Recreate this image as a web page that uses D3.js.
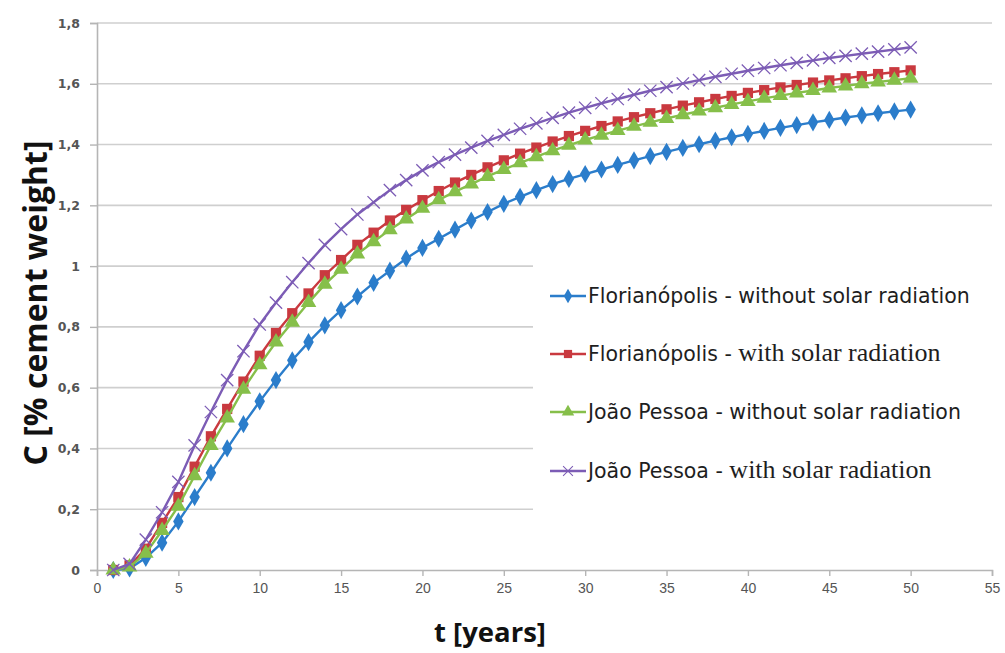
<!DOCTYPE html>
<html>
<head>
<meta charset="utf-8">
<script src="https://cdn.jsdelivr.net/npm/d3@7"></script>
<style>
  html, body { margin: 0; padding: 0; background: #fff; }
  svg { display: block; }
</style>
</head>
<body>
<svg id="chart" width="1005" height="653"></svg>
<script>
const years = [1,2,3,4,5,6,7,8,9,10,11,12,13,14,15,16,17,18,19,20,21,22,23,24,25,26,27,28,29,30,31,32,33,34,35,36,37,38,39,40,41,42,43,44,45,46,47,48,49,50];

const floriWithout = [0,0.005,0.04,0.09,0.16,0.24,0.32,0.40,0.48,0.555,0.625,0.69,0.75,0.805,0.855,0.90,0.945,0.985,1.025,1.06,1.09,1.12,1.15,1.178,1.205,1.228,1.25,1.27,1.287,1.303,1.318,1.333,1.348,1.362,1.376,1.389,1.401,1.413,1.424,1.435,1.445,1.455,1.464,1.473,1.481,1.489,1.496,1.503,1.509,1.515];

const floriWith = [0,0.015,0.07,0.155,0.24,0.34,0.44,0.53,0.62,0.705,0.78,0.845,0.91,0.97,1.02,1.07,1.11,1.15,1.185,1.217,1.247,1.275,1.30,1.325,1.348,1.37,1.39,1.41,1.428,1.445,1.461,1.476,1.49,1.503,1.516,1.528,1.539,1.55,1.56,1.57,1.579,1.588,1.596,1.604,1.611,1.618,1.625,1.632,1.638,1.644];

const jpWithout = [0,0.01,0.055,0.13,0.21,0.31,0.41,0.50,0.595,0.675,0.75,0.815,0.88,0.94,0.99,1.04,1.08,1.12,1.155,1.19,1.218,1.245,1.27,1.295,1.318,1.34,1.36,1.38,1.398,1.415,1.431,1.446,1.46,1.473,1.486,1.498,1.51,1.521,1.532,1.542,1.552,1.561,1.57,1.578,1.586,1.593,1.60,1.606,1.612,1.618];

const jpWith = [0,0.02,0.10,0.19,0.29,0.41,0.52,0.625,0.72,0.808,0.88,0.947,1.01,1.07,1.122,1.17,1.21,1.25,1.283,1.315,1.342,1.367,1.39,1.412,1.432,1.452,1.47,1.488,1.505,1.521,1.536,1.55,1.564,1.577,1.589,1.601,1.612,1.623,1.633,1.643,1.652,1.661,1.669,1.677,1.685,1.692,1.699,1.706,1.713,1.72];

const xTicks = [0,5,10,15,20,25,30,35,40,45,50,55];
const yTicks = [0,0.2,0.4,0.6,0.8,1,1.2,1.4,1.6,1.8];

const seriesNames = [
  ["Florianópolis - ", "without solar radiation"],
  ["Florianópolis - ", "with solar radiation"],
  ["João Pessoa - ", "without solar radiation"],
  ["João Pessoa - ", "with solar radiation"]
];
const seriesValues = [floriWithout, floriWith, jpWithout, jpWith];
const seriesColors = ["#2b7dcb", "#c9393f", "#86bf4a", "#7c5cb5"];
const seriesMarkers = ["diamond", "square", "triangle", "x"];
const seriesLabelSerif = [false, true, false, true];

const svg = d3.select("#chart");
const x = d3.scaleLinear().domain([0, 55]).range([97, 992]);
const y = d3.scaleLinear().domain([0, 1.8]).range([570, 23]);
const fmt = v => String(v).replace(".", ",");

// gridlines
svg.append("g").selectAll("line").data(yTicks.filter(v => v > 0)).join("line")
  .attr("x1", x(0)).attr("x2", x(55))
  .attr("y1", d => y(d)).attr("y2", d => y(d))
  .attr("stroke", "#cfcfcf").attr("stroke-width", 1.6);

// axes
const xAxis = d3.axisBottom(x).tickValues(xTicks).tickSize(6).tickFormat(d => d);
const gx = svg.append("g").attr("transform", `translate(0,${y(0)})`).call(xAxis);
gx.select(".domain").attr("stroke", "#b5b5b5").attr("stroke-width", 1.6);
gx.selectAll(".tick line").attr("stroke", "#b5b5b5").attr("stroke-width", 1.4);
gx.selectAll(".tick text").attr("dy", "0.71em").attr("y", 13)
  .attr("font-family", "Liberation Sans Narrow, Liberation Sans, sans-serif")
  .attr("font-size", 14).attr("fill", "#555");

const yAxis = d3.axisLeft(y).tickValues(yTicks).tickSize(7).tickFormat(fmt);
const gy = svg.append("g").attr("transform", `translate(${x(0)},0)`).call(yAxis);
gy.select(".domain").attr("stroke", "#b5b5b5").attr("stroke-width", 1.6);
gy.selectAll(".tick line").attr("stroke", "#b5b5b5").attr("stroke-width", 1.4);
gy.selectAll(".tick text").attr("x", -17)
  .attr("font-family", "DejaVu Sans, sans-serif").attr("font-weight", "bold")
  .attr("font-size", 12.5).attr("fill", "#555");

// legend background (covers grid)
svg.append("rect").attr("x", 533).attr("y", 238).attr("width", 472).attr("height", 284).attr("fill", "#fff");

// series
const line = d3.line().x((d, i) => x(years[i])).y(d => y(d));
const symbolOf = {
  diamond: d3.symbol().type(d3.symbolDiamond).size(95),
  square: d3.symbol().type(d3.symbolSquare).size(105),
  triangle: d3.symbol().type(d3.symbolTriangle).size(105),
  x: d3.symbol().type(d3.symbolX).size(100)
};
function drawMarker(sel, kind, color, scale) {
  const p = sel.append("path").attr("d", symbolOf[kind]());
  if (scale) p.attr("transform", `scale(${scale})`);
  if (kind === "x") p.attr("fill", "none").attr("stroke", color).attr("stroke-width", 1.3);
  else p.attr("fill", color).attr("stroke", "none");
  return p;
}

seriesValues.forEach((vals, s) => {
  const g = svg.append("g");
  g.append("path").datum(vals).attr("d", line)
    .attr("fill", "none").attr("stroke", seriesColors[s]).attr("stroke-width", 2.4);
  g.selectAll("g.m").data(vals).join("g").attr("class", "m")
    .attr("transform", (d, i) => `translate(${x(years[i])},${y(d)})`)
    .each(function() { drawMarker(d3.select(this), seriesMarkers[s], seriesColors[s]); });
});

// legend
const legendY = [296, 354, 412, 471];
seriesNames.forEach((nm, s) => {
  const g = svg.append("g").attr("transform", `translate(550,${legendY[s]})`);
  g.append("line").attr("x1", 0).attr("x2", 36).attr("y1", 0).attr("y2", 0)
    .attr("stroke", seriesColors[s]).attr("stroke-width", 2.4);
  const m = g.append("g").attr("transform", "translate(18,0)");
  drawMarker(m, seriesMarkers[s], seriesColors[s], 0.8);
  const t = g.append("text").attr("x", 38).attr("y", 7).attr("fill", "#1e1e1e");
  t.append("tspan").attr("font-family", "DejaVu Sans, sans-serif").attr("font-size", 20.5).text(nm[0]);
  t.append("tspan")
    .attr("font-family", seriesLabelSerif[s] ? "Liberation Serif, serif" : "DejaVu Sans, sans-serif")
    .attr("font-size", seriesLabelSerif[s] ? 26 : 20.5)
    .text(nm[1]);
});

// axis titles
svg.append("text").attr("x", 490).attr("y", 642).attr("text-anchor", "middle")
  .attr("font-family", "Open Sans, DejaVu Sans, sans-serif").attr("font-weight", "bold")
  .attr("font-size", 27.5).attr("fill", "#111").text("t [years]");
svg.append("text").attr("transform", "translate(47,303) rotate(-90)").attr("text-anchor", "middle")
  .attr("font-family", "Open Sans, DejaVu Sans, sans-serif").attr("font-weight", "bold")
  .attr("font-size", 32).attr("fill", "#111").text("C [% cement weight]");
</script>
</body>
</html>
